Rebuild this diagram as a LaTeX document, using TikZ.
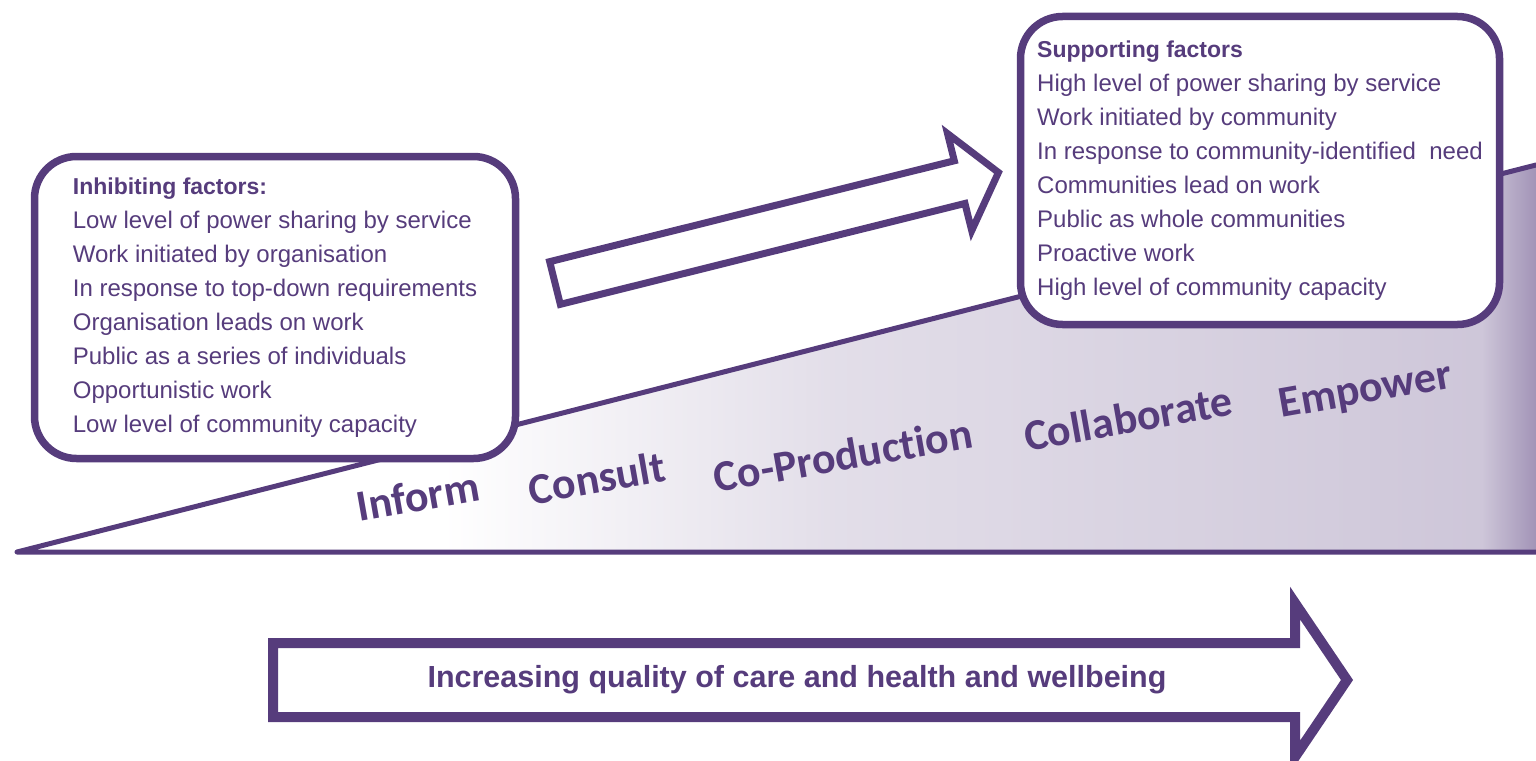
\documentclass[tikz,border=0pt]{standalone}
\usepackage{fontspec}
\setmainfont{Liberation Sans}
\newfontfamily\stagefont{Carlito}[Ligatures=NoCommon]
\definecolor{pcol}{RGB}{86,60,124}
\newcommand{\headfont}{\bfseries\fontsize{23}{34}\selectfont}
% left-to-right tint of the engagement wedge (path box spans 25bp..75bp)
\pgfdeclarehorizontalshading{wedgeshade}{100bp}{%
  color(0bp)=(white); color(39bp)=(white); color(52bp)=(pcol!17);
  color(73.2bp)=(pcol!29); color(75bp)=(pcol!55); color(100bp)=(pcol!55)}
\begin{document}
\begin{tikzpicture}[x=1pt,y=-1pt,
  outline/.style={draw=pcol, line width=7.5pt},
  factorbox/.style={outline, fill=white, rounded corners=42pt, align=left,
    inner sep=0pt, text=pcol, font=\fontsize{24}{34}\selectfont},
  stage/.style={text=pcol, font=\stagefont\bfseries\fontsize{44}{44}\selectfont,
    rotate=10, inner sep=0pt},
  ]
\useasboundingbox (0,0) rectangle (1536,760);

% the rising wedge of engagement
\coordinate (wl) at (17,552);
\coordinate (wt) at (1536,165);
\coordinate (wr) at (1536,552);
\shade[shading=wedgeshade] (wl) -- (wt) -- (wr) -- cycle;
\draw[pcol, line width=5pt, line cap=round, line join=round] (wr) -- (wl) -- (wt);

% stages along the wedge
\node[stage] (inform)  at (418,496) {Inform};
\node[stage] (consult) at (597,478) {Consult};
\node[stage] (coprod)  at (843,455) {Co-Production};
\node[stage] (collab)  at (1128,418) {Collaborate};
\node[stage] (empower) at (1366,392) {Empower};

% factor boxes
\node[factorbox, minimum width=481, minimum height=302] (inhib) at (275,307.5)
  {{\headfont Inhibiting factors:}\\
   Low level of power sharing by service\\
   Work initiated by organisation\\
   In response to top-down requirements\\
   Organisation leads on work\\
   Public as a series of individuals\\
   Opportunistic work\\
   Low level of community capacity};
\node[factorbox, minimum width=479, minimum height=308] (support) at (1260,170.5)
  {{\headfont Supporting factors}\\
   High level of power sharing by service\\
   Work initiated by community\\
   In response to community-identified~ need\\
   Communities lead on work\\
   Public as whole communities\\
   Proactive work\\
   High level of community capacity};

% hollow arrow from inhibiting to supporting
\begin{scope}[shift={(555,283)}, rotate=14]
  \draw[outline, line width=7pt, fill=white, line join=miter]
    (0,-22) -- (417,-22) -- (417,-50) -- (457,0) -- (417,50) -- (417,22) -- (0,22) -- cycle;
\end{scope}

% bottom arrow
\draw[outline, line width=10pt, line join=miter, fill=white]
  (273,643) -- (1295,643) -- (1295,603) -- (1347,680) -- (1295,757) -- (1295,717) -- (273,717) -- cycle;
\node[text=pcol, font=\bfseries\fontsize{30.5}{30.5}\selectfont] (quality) at (797,680)
  {Increasing quality of care and health and wellbeing};
\end{tikzpicture}
\end{document}
